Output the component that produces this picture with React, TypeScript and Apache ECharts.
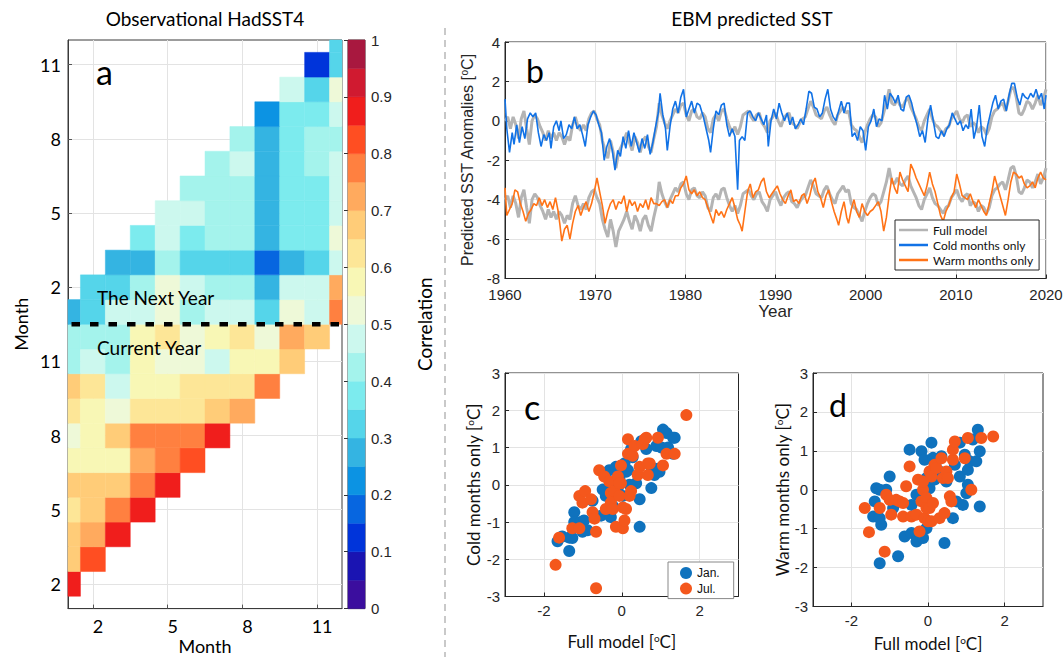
import React, { useEffect, useRef } from "react";
import * as echarts from "echarts";

const SANS = "Lato, 'Open Sans', sans-serif";
const ARIAL = "'Liberation Sans', Arial, sans-serif";
const AXIS_GRAY = "#262626";
const GRID_GRAY = "#E3E3E3";

// ---------- Panel a : lagged correlation (HadSST4) ----------
const heatColors = [
  "#3B0E9E", "#1A14B2", "#0034DA", "#0766E0", "#0C93E3",
  "#34B4E2", "#55D5EA", "#7CEBEE", "#A4F3EC", "#CCF8EE",
  "#EEF9D8", "#F8F7B5", "#FDE697", "#FFCC78", "#FFAA5E",
  "#FF8040", "#FF4E22", "#F01E1C", "#D01A30", "#A8183F",
];
const colorbarStep = 0.05;
const monthTicks = [2, 5, 8, 11];
const heatRowTicks = [2, 5, 8, 11, 14, 17, 20, 23];
const firstTargetMonth = 2;
const maxLag = 12;
const yearBoundary = 12.5;
// each row = target month (2..24), columns start at max(1, row - 12)
const corrRows: number[][] = [
  [0.88],
  [0.68, 0.83],
  [0.68, 0.73, 0.88],
  [0.63, 0.68, 0.78, 0.88],
  [0.68, 0.68, 0.68, 0.78, 0.88],
  [0.58, 0.58, 0.58, 0.73, 0.78, 0.83],
  [0.53, 0.58, 0.68, 0.78, 0.78, 0.78, 0.88],
  [0.63, 0.58, 0.53, 0.63, 0.63, 0.63, 0.68, 0.73],
  [0.68, 0.63, 0.48, 0.58, 0.58, 0.63, 0.63, 0.63, 0.78],
  [0.43, 0.48, 0.43, 0.58, 0.53, 0.53, 0.48, 0.58, 0.58, 0.68],
  [0.43, 0.43, 0.43, 0.58, 0.63, 0.53, 0.58, 0.63, 0.53, 0.73, 0.68],
  [0.28, 0.33, 0.48, 0.48, 0.53, 0.43, 0.48, 0.48, 0.33, 0.53, 0.48, 0.78],
  [0.33, 0.33, 0.43, 0.53, 0.48, 0.43, 0.43, 0.28, 0.48, 0.48, 0.73],
  [0.28, 0.28, 0.43, 0.33, 0.33, 0.33, 0.18, 0.28, 0.33, 0.48],
  [0.38, 0.48, 0.38, 0.43, 0.43, 0.28, 0.38, 0.38, 0.53],
  [0.48, 0.48, 0.43, 0.43, 0.28, 0.38, 0.38, 0.48],
  [0.43, 0.43, 0.43, 0.28, 0.38, 0.38, 0.48],
  [0.43, 0.48, 0.28, 0.38, 0.43, 0.48],
  [0.43, 0.28, 0.38, 0.43, 0.43],
  [0.23, 0.38, 0.38, 0.48],
  [0.48, 0.33, 0.53],
  [0.13, 0.33],
  [0.33],
];

// ---------- Panel b : EBM predicted SST ----------
const fullModel: [number, number][] = [
  [1960.0, 0.0], [1960.3, 0.2], [1960.6, -0.4], [1960.9, 0.2], [1961.2, -0.2], [1961.5, -0.9], [1961.8, 0.1],
  [1962.1, 0.5], [1962.4, -0.4], [1962.7, -1.2], [1963.0, 0.0], [1963.3, 0.3], [1963.6, 0.1], [1963.9, -0.3],
  [1964.2, -0.6], [1964.5, -1.0], [1964.8, -0.5], [1965.1, -0.9], [1965.4, -0.6], [1965.7, -1.0], [1966.0, -0.6],
  [1966.3, -0.8], [1966.6, -1.2], [1966.9, -0.8], [1967.2, -1.0], [1967.5, -0.2], [1967.8, 0.2], [1968.1, -0.3],
  [1968.4, -0.5], [1968.7, -0.2], [1969.0, -0.5], [1969.3, 0.1], [1969.6, 0.4], [1969.9, 0.5], [1970.2, 0.1],
  [1970.5, -0.2], [1970.8, -1.0], [1971.1, -1.5], [1971.4, -1.9], [1971.7, -1.0], [1972.0, -1.6], [1972.3, -2.4],
  [1972.6, -1.6], [1972.9, -1.3], [1973.2, -1.0], [1973.5, -0.6], [1973.8, -1.1], [1974.1, -1.5], [1974.4, -0.8],
  [1974.7, -1.1], [1975.0, -1.6], [1975.3, -1.0], [1975.6, -0.8], [1975.9, -1.3], [1976.2, -1.6], [1976.5, -0.9],
  [1976.8, -0.3], [1977.1, 0.9], [1977.4, 0.3], [1977.7, -0.1], [1978.0, -0.4], [1978.3, 0.0], [1978.6, 0.3],
  [1978.9, 0.6], [1979.2, 0.4], [1979.5, 0.8], [1979.8, 0.9], [1980.1, 0.3], [1980.4, 0.0], [1980.7, 0.5],
  [1981.0, 0.6], [1981.3, 0.2], [1981.6, 0.1], [1981.9, 0.4], [1982.2, 0.2], [1982.5, -0.4], [1982.8, -0.6],
  [1983.1, 0.1], [1983.4, 0.3], [1983.7, 0.0], [1984.0, 0.5], [1984.3, 0.6], [1984.6, 0.1], [1984.9, -0.3],
  [1985.2, -0.6], [1985.5, -0.3], [1985.8, -0.7], [1986.1, -0.3], [1986.4, 0.3], [1986.7, 0.4], [1987.0, 0.5],
  [1987.3, 0.2], [1987.6, 0.0], [1987.9, 0.3], [1988.2, 0.4], [1988.5, -0.1], [1988.8, -0.3], [1989.1, -0.6],
  [1989.4, 0.0], [1989.7, 0.2], [1990.0, 0.4], [1990.3, 0.0], [1990.6, -0.3], [1990.9, 0.1], [1991.2, 0.3],
  [1991.5, 0.4], [1991.8, -0.1], [1992.1, -0.2], [1992.4, -0.4], [1992.7, -0.1], [1993.0, 0.1], [1993.3, 0.2],
  [1993.6, 0.6], [1993.9, 1.0], [1994.2, 0.7], [1994.5, 0.3], [1994.8, 0.2], [1995.1, 0.1], [1995.4, 0.5],
  [1995.7, 0.7], [1996.0, 0.3], [1996.3, 0.0], [1996.6, -0.2], [1996.9, 0.3], [1997.2, 0.5], [1997.5, 0.7],
  [1997.8, 0.4], [1998.1, 0.5], [1998.4, -0.2], [1998.7, -0.4], [1999.0, -0.5], [1999.3, -0.8], [1999.6, -1.1],
  [1999.9, -0.6], [2000.2, -0.2], [2000.5, 0.1], [2000.8, 0.3], [2001.1, 0.2], [2001.4, -0.3], [2001.7, -0.1],
  [2002.0, 0.4], [2002.3, 0.9], [2002.6, 1.6], [2002.9, 0.9], [2003.2, 0.8], [2003.5, 1.1], [2003.8, 0.8],
  [2004.1, 0.7], [2004.4, 1.0], [2004.7, 1.2], [2005.0, 0.7], [2005.3, 0.4], [2005.6, 0.1], [2005.9, -0.3],
  [2006.2, -0.5], [2006.5, 0.0], [2006.8, 0.3], [2007.1, 0.6], [2007.4, 0.1], [2007.7, -0.2], [2008.0, -0.3],
  [2008.3, -0.5], [2008.6, -0.7], [2008.9, -0.4], [2009.2, -0.3], [2009.5, 0.1], [2009.8, 0.3], [2010.1, 0.5],
  [2010.4, 0.1], [2010.7, -0.1], [2011.0, 0.2], [2011.3, 0.3], [2011.6, -0.3], [2011.9, -0.1], [2012.2, -0.2],
  [2012.5, -0.6], [2012.8, -0.3], [2013.1, -0.4], [2013.4, -0.7], [2013.7, -0.4], [2014.0, 0.2], [2014.3, 0.5],
  [2014.6, 0.6], [2014.9, 0.8], [2015.2, 0.9], [2015.5, 0.5], [2015.8, 1.0], [2016.1, 1.6], [2016.4, 1.7],
  [2016.7, 1.2], [2017.0, 0.4], [2017.3, 0.3], [2017.6, 0.6], [2017.9, 1.0], [2018.2, 0.9], [2018.5, 0.6],
  [2018.8, 0.9], [2019.1, 1.3], [2019.4, 0.8], [2019.7, 1.1], [2020.0, 1.6],
];
const coldOnly: [number, number][] = [
  [1960.0, 1.1], [1960.2, -0.4], [1960.5, -1.6], [1960.8, -0.6], [1961.0, -1.2], [1961.3, -0.2], [1961.6, -1.1],
  [1961.9, -0.3], [1962.2, -0.9], [1962.5, 0.1], [1962.8, 0.4], [1963.1, 0.2], [1963.4, 0.4], [1963.7, -0.6],
  [1964.0, -1.3], [1964.3, -0.7], [1964.6, -1.0], [1964.9, -0.6], [1965.1, -1.4], [1965.4, -0.3], [1965.7, 0.0],
  [1966.0, -0.5], [1966.2, 0.0], [1966.5, -0.9], [1966.8, -0.7], [1967.1, -0.2], [1967.4, -0.4], [1967.7, 0.2],
  [1968.0, -0.4], [1968.3, -0.2], [1968.6, -0.7], [1968.9, -1.3], [1969.2, -0.2], [1969.5, 0.2], [1969.8, 0.5],
  [1970.1, 0.3], [1970.4, -0.2], [1970.7, -0.6], [1971.0, -2.0], [1971.3, -1.3], [1971.6, -0.9], [1971.9, -1.5],
  [1972.2, -2.5], [1972.5, -1.5], [1972.8, -1.8], [1973.1, -0.8], [1973.4, -1.4], [1973.7, -0.5], [1974.0, -1.3],
  [1974.3, -0.6], [1974.6, -1.1], [1974.9, -1.6], [1975.2, -0.9], [1975.5, -1.4], [1975.8, -0.7], [1976.1, -1.7],
  [1976.4, -1.1], [1976.7, -0.3], [1977.0, 0.4], [1977.2, 1.4], [1977.5, 0.3], [1977.8, -0.4], [1978.0, -1.5],
  [1978.3, -0.3], [1978.6, 0.6], [1978.9, 1.0], [1979.2, 0.4], [1979.5, 1.2], [1979.8, 1.6], [1980.1, 0.2],
  [1980.4, 0.6], [1980.7, 1.0], [1981.0, 0.4], [1981.3, 0.9], [1981.6, 0.8], [1982.0, 0.2], [1982.3, -0.4],
  [1982.6, -1.0], [1982.8, -1.6], [1983.1, -0.4], [1983.4, 0.5], [1983.7, 0.3], [1984.0, 0.8], [1984.3, 0.9],
  [1984.6, -0.2], [1984.9, -0.8], [1985.2, -0.4], [1985.5, -0.8], [1985.8, -3.5], [1986.0, -1.0], [1986.3, -0.8],
  [1986.6, -1.0], [1986.9, 0.4], [1987.2, 0.5], [1987.5, 0.2], [1987.8, 0.0], [1988.1, 0.4], [1988.4, 0.1],
  [1988.7, -0.2], [1989.0, 0.3], [1989.2, -1.3], [1989.5, 0.0], [1989.8, 0.6], [1990.1, 0.1], [1990.4, 0.9],
  [1990.7, 0.4], [1991.0, 0.0], [1991.3, 0.4], [1991.6, -0.2], [1991.9, 0.2], [1992.2, -0.4], [1992.5, -0.2],
  [1992.8, 0.1], [1993.1, -0.2], [1993.4, 0.6], [1993.7, 1.5], [1994.0, 1.4], [1994.3, 0.7], [1994.6, 0.6],
  [1994.9, 0.2], [1995.2, 0.4], [1995.5, 1.1], [1995.8, 1.6], [1996.1, 0.6], [1996.4, 0.2], [1996.7, 0.0],
  [1997.0, 0.5], [1997.3, 1.0], [1997.6, 0.4], [1997.9, 0.9], [1998.2, 0.9], [1998.5, -0.8], [1998.8, -0.6],
  [1999.1, -1.0], [1999.4, -0.3], [1999.7, -0.5], [2000.0, -1.5], [2000.3, -0.3], [2000.6, 0.0], [2000.9, 0.6],
  [2001.2, -0.3], [2001.5, 0.1], [2001.8, 0.0], [2002.1, 1.3], [2002.4, 0.6], [2002.7, 1.4], [2003.0, 1.2],
  [2003.3, 0.9], [2003.6, 1.3], [2003.9, 0.6], [2004.2, 0.5], [2004.5, 1.2], [2004.8, 1.3], [2005.1, 0.9],
  [2005.4, 0.3], [2005.7, -0.2], [2006.0, -0.8], [2006.3, -0.5], [2006.6, -1.1], [2006.9, 0.1], [2007.2, 0.8],
  [2007.5, 0.0], [2007.8, -0.8], [2008.1, -0.9], [2008.4, -0.5], [2008.7, -0.8], [2009.0, -0.4], [2009.3, -0.2],
  [2009.6, 0.4], [2009.9, 0.1], [2010.2, -0.2], [2010.5, 0.0], [2010.8, -0.5], [2011.1, -0.2], [2011.4, -0.4],
  [2011.7, 0.6], [2012.0, -0.9], [2012.3, -0.3], [2012.6, 0.8], [2012.9, -0.8], [2013.2, -1.3], [2013.5, -0.3],
  [2013.8, 0.3], [2014.1, 0.9], [2014.4, 1.3], [2014.7, 0.6], [2015.0, 1.0], [2015.3, 1.1], [2015.6, 0.5],
  [2015.9, 1.3], [2016.2, 1.9], [2016.5, 1.9], [2016.8, 1.2], [2017.1, 0.8], [2017.4, 1.4], [2017.7, 1.2],
  [2018.0, 1.1], [2018.3, 1.4], [2018.6, 1.2], [2018.9, 1.6], [2019.2, 1.1], [2019.5, 1.4], [2019.8, 0.6],
  [2020.0, 1.3],
];
const warmOnly: [number, number][] = [
  [1960.0, -3.4], [1960.2, -4.8], [1960.5, -4.5], [1960.8, -4.2], [1961.1, -3.5], [1961.4, -3.6], [1961.7, -4.2],
  [1962.0, -4.6], [1962.3, -5.1], [1962.6, -4.7], [1962.9, -4.5], [1963.2, -4.2], [1963.5, -4.3], [1963.8, -3.9],
  [1964.1, -4.3], [1964.4, -4.0], [1964.7, -4.4], [1965.0, -4.1], [1965.3, -4.5], [1965.6, -3.9], [1965.9, -4.6],
  [1966.1, -5.3], [1966.3, -6.1], [1966.6, -5.5], [1966.9, -5.3], [1967.2, -6.0], [1967.5, -5.2], [1967.8, -4.6],
  [1968.1, -4.3], [1968.4, -4.8], [1968.7, -4.4], [1969.0, -4.1], [1969.3, -4.6], [1969.6, -4.2], [1969.9, -3.6],
  [1970.2, -2.9], [1970.5, -3.6], [1970.8, -4.3], [1971.1, -5.2], [1971.4, -4.6], [1971.7, -4.2], [1972.0, -4.0],
  [1972.3, -4.5], [1972.6, -4.1], [1972.9, -4.2], [1973.2, -3.8], [1973.5, -4.6], [1973.8, -4.0], [1974.1, -4.3],
  [1974.4, -4.1], [1974.7, -4.6], [1975.0, -4.2], [1975.3, -4.4], [1975.6, -4.0], [1975.9, -4.5], [1976.2, -3.9],
  [1976.5, -4.2], [1976.8, -4.2], [1977.1, -4.3], [1977.4, -4.1], [1977.7, -4.0], [1978.0, -4.4], [1978.3, -4.0],
  [1978.6, -4.2], [1978.9, -3.8], [1979.2, -3.8], [1979.5, -3.4], [1979.8, -3.2], [1980.1, -2.8], [1980.4, -3.5],
  [1980.7, -3.7], [1981.0, -3.5], [1981.3, -3.8], [1981.6, -3.6], [1981.9, -3.9], [1982.2, -4.0], [1982.5, -4.4],
  [1982.8, -4.8], [1983.1, -5.2], [1983.4, -4.5], [1983.7, -4.8], [1984.0, -4.6], [1984.3, -4.9], [1984.6, -4.5],
  [1984.9, -4.2], [1985.2, -3.9], [1985.5, -4.4], [1985.8, -5.0], [1986.1, -5.3], [1986.3, -5.6], [1986.6, -4.6],
  [1986.9, -3.6], [1987.2, -3.2], [1987.5, -3.9], [1987.8, -3.6], [1988.1, -3.5], [1988.4, -3.1], [1988.7, -2.9],
  [1989.0, -3.6], [1989.3, -3.9], [1989.6, -3.7], [1989.9, -3.5], [1990.2, -3.3], [1990.5, -3.7], [1990.8, -4.0],
  [1991.1, -4.2], [1991.4, -3.8], [1991.7, -3.5], [1992.0, -4.1], [1992.3, -4.0], [1992.6, -4.2], [1992.9, -3.8],
  [1993.2, -3.7], [1993.5, -4.2], [1993.8, -3.8], [1994.1, -3.2], [1994.4, -2.9], [1994.7, -3.6], [1995.0, -3.9],
  [1995.3, -4.4], [1995.6, -3.8], [1995.9, -3.5], [1996.2, -4.1], [1996.5, -4.6], [1996.8, -5.0], [1997.0, -5.3],
  [1997.3, -4.6], [1997.6, -4.1], [1997.9, -4.9], [1998.1, -5.2], [1998.4, -4.5], [1998.7, -4.0], [1999.0, -4.6],
  [1999.3, -4.9], [1999.6, -4.2], [1999.9, -4.6], [2000.2, -4.8], [2000.5, -4.6], [2000.8, -4.5], [2001.1, -4.3],
  [2001.4, -4.1], [2001.7, -4.6], [2002.0, -5.6], [2002.3, -4.9], [2002.6, -3.8], [2002.9, -2.9], [2003.2, -3.4],
  [2003.5, -3.7], [2003.8, -2.6], [2004.1, -3.0], [2004.4, -3.3], [2004.7, -3.6], [2005.0, -2.2], [2005.3, -2.5],
  [2005.6, -2.9], [2005.9, -3.2], [2006.2, -3.5], [2006.5, -3.8], [2006.8, -3.3], [2007.1, -2.6], [2007.4, -3.2],
  [2007.7, -3.6], [2008.0, -4.2], [2008.3, -4.8], [2008.6, -5.1], [2008.9, -4.6], [2009.2, -4.3], [2009.5, -3.9],
  [2009.8, -3.6], [2010.1, -2.7], [2010.4, -3.2], [2010.7, -3.8], [2011.0, -3.9], [2011.3, -4.0], [2011.6, -3.7],
  [2011.9, -4.1], [2012.2, -4.4], [2012.5, -4.0], [2012.8, -4.3], [2013.1, -4.6], [2013.4, -4.8], [2013.7, -4.2],
  [2014.0, -3.6], [2014.3, -2.8], [2014.6, -3.3], [2014.9, -3.8], [2015.2, -4.3], [2015.5, -4.8], [2015.8, -4.0],
  [2016.1, -3.1], [2016.4, -2.6], [2016.7, -2.7], [2017.0, -2.9], [2017.3, -2.8], [2017.6, -3.2], [2017.9, -3.4],
  [2018.2, -3.3], [2018.5, -3.1], [2018.8, -3.4], [2019.1, -2.9], [2019.4, -2.6], [2019.7, -2.9], [2020.0, -3.0],
];
const warmOffset = -4;

// ---------- Panel c : cold months only vs full model ----------
const janC: [number, number][] = [
  [-1.65, -1.52], [-1.53, -1.39], [-1.35, -1.78], [-1.35, -1.42], [-1.27, -1.43], [-1.22, -0.74], [-1.22, -1.0],
  [-1.05, -1.0], [-1.01, -1.26], [-0.97, -0.96], [-0.88, -1.22], [-0.75, -0.43], [-0.53, -0.83], [-0.41, -0.3],
  [-0.41, -0.17], [-0.32, 0.39], [-0.28, -0.87], [-0.23, -0.57], [-0.19, -0.22], [-0.1, -0.09], [-0.1, 0.39],
  [0.03, -0.3], [0.07, 0.57], [0.11, 0.35], [0.16, 0.39], [0.2, 0.0], [0.24, 0.96], [0.28, 0.74], [0.37, 0.04],
  [0.46, -0.39], [0.46, -1.13], [0.63, 0.96], [0.76, 0.48], [0.76, -0.09], [0.84, 0.26], [0.89, 1.04],
  [0.93, 0.43], [0.97, 0.35], [1.02, 1.0], [1.06, 1.48], [1.15, 1.39], [1.19, 1.0], [1.32, 1.26], [1.36, 1.26],
  [1.32, 0.83], [-0.49, -0.13], [0.5, 1.17], [-0.15, 0.48], [-0.06, 0.17],
];
const julC: [number, number][] = [
  [-1.61, -1.42], [-1.7, -2.15], [-0.66, -2.78], [1.66, 1.87], [-1.27, -1.17], [-1.09, -1.17], [-1.09, -0.3],
  [-1.01, -0.48], [-0.94, -0.17], [-0.79, -0.39], [-0.75, -0.74], [-0.7, -0.91], [-0.66, -1.26], [-0.58, 0.39],
  [-0.45, 0.22], [-0.41, -0.65], [-0.32, 0.09], [-0.28, -0.22], [-0.28, -0.48], [-0.23, -0.65], [-0.19, -0.17],
  [-0.15, -1.13], [-0.1, 0.22], [-0.06, -0.3], [-0.02, 0.52], [-0.02, 0.04], [0.03, -0.61], [0.03, -1.17],
  [0.07, -0.96], [0.11, -0.65], [0.16, 1.22], [0.16, 0.83], [0.2, -0.3], [0.24, -0.17], [0.28, 0.78],
  [0.33, 1.04], [0.41, 0.26], [0.46, 0.48], [0.54, 1.09], [0.59, 1.22], [0.63, 1.26], [0.67, 0.57],
  [0.67, 0.26], [0.72, 0.57], [0.93, 1.26], [1.06, 0.52], [1.15, 0.83], [1.36, 0.83], [-0.06, 0.04],
];

// ---------- Panel d : warm months only vs full model ----------
const janD: [number, number][] = [
  [-1.26, -1.89], [-1.35, 0.04], [-1.26, 0.0], [-1.39, -0.3], [-1.43, -0.69], [-1.22, -0.9], [-1.26, -0.73],
  [-1.09, 0.0], [-1.0, 0.34], [-0.91, -0.47], [-0.78, -1.71], [-0.61, -1.2], [-0.48, 1.03], [-0.43, -0.39],
  [-0.43, -1.11], [-0.3, -1.33], [-0.3, -0.13], [-0.17, 0.99], [-0.17, -0.26], [-0.13, -1.24], [-0.09, 0.77],
  [-0.04, 0.3], [-0.04, -0.99], [0.04, 0.04], [0.09, 1.21], [0.13, 0.82], [0.17, 0.26], [0.22, 0.73],
  [0.3, 0.47], [0.35, 0.86], [0.43, -1.37], [0.48, 0.21], [0.65, -0.73], [0.7, 0.64], [0.74, -0.3],
  [0.83, 1.21], [0.83, 0.34], [0.91, -0.39], [1.0, -0.09], [1.04, 0.51], [1.04, 0.13], [1.09, 0.73],
  [1.17, 1.29], [1.26, 0.73], [1.3, 1.54], [1.35, 0.99], [1.35, -0.43], [0.96, 0.9],
];
const julD: [number, number][] = [
  [-1.65, -0.47], [-1.54, -1.09], [-1.26, -0.47], [-1.13, -1.59], [-1.09, -0.13], [-1.0, -0.26], [-0.96, -0.64],
  [-0.83, -0.26], [-0.74, -0.3], [-0.65, -0.34], [-0.65, -0.69], [-0.57, 0.09], [-0.48, 0.6], [-0.43, -0.69],
  [-0.3, -0.64], [-0.26, 0.26], [-0.22, -1.07], [-0.17, -0.3], [-0.13, 0.0], [-0.09, -0.73], [-0.04, -0.21],
  [-0.04, -0.47], [0.0, -0.81], [0.04, 0.47], [0.04, -0.47], [0.09, 0.34], [0.09, -0.81], [0.13, -0.34],
  [0.17, 0.64], [0.22, 0.56], [0.3, -0.73], [0.35, 0.81], [0.39, 0.3], [0.43, -0.6], [0.48, 0.47],
  [0.52, 0.3], [0.57, -0.17], [0.61, -0.3], [0.65, 0.77], [0.65, 1.03], [0.7, 1.24], [0.96, 0.81],
  [1.13, 0.0], [1.04, 1.33], [1.39, 1.33], [1.7, 1.37], [-0.13, 0.21],
];

const JAN_COLOR = "#0F72BD";
const JUL_COLOR = "#F4571C";

function colorOf(v: number) {
  const k = Math.min(heatColors.length - 1, Math.max(0, Math.floor(v / colorbarStep)));
  return heatColors[k];
}

function supName(font: string, size: number, color: string) {
  return {
    fontFamily: font,
    fontSize: size,
    color,
    rich: {
      s: { fontFamily: font, fontSize: Math.round(size * 0.6), color, verticalAlign: "top" },
    },
  };
}

export default function App() {
  const ref = useRef<HTMLDivElement>(null);

  useEffect(() => {
    const chart = echarts.init(ref.current as HTMLDivElement, null, { renderer: "svg" });

    const heatData: number[][] = [];
    corrRows.forEach((row, i) => {
      const y = firstTargetMonth + i;
      const start = Math.max(1, y - maxLag);
      row.forEach((v, j) => heatData.push([start + j, y, v]));
    });

    const colorbarData = heatColors.map((_, k) => [0.5, k * colorbarStep, (k + 1) * colorbarStep, k]);

    const cellRender = (params: any, api: any) => {
      const x = api.value(0);
      const y = api.value(1);
      const v = api.value(2);
      const p0 = api.coord([x - 0.5, y + 0.5]);
      const p1 = api.coord([x + 0.5, y - 0.5]);
      const cs = params.coordSys;
      const shape = echarts.graphic.clipRectByRect(
        { x: p0[0], y: p0[1], width: p1[0] - p0[0], height: p1[1] - p0[1] },
        { x: cs.x, y: cs.y, width: cs.width, height: cs.height }
      );
      if (!shape) return null;
      const c = colorOf(v);
      return { type: "rect", shape, style: { fill: c, stroke: c, lineWidth: 0.5 } };
    };

    const barRender = (params: any, api: any) => {
      const lo = api.value(1);
      const hi = api.value(2);
      const k = api.value(3);
      const p0 = api.coord([0, hi]);
      const p1 = api.coord([1, lo]);
      const c = heatColors[k];
      return {
        type: "rect",
        shape: { x: p0[0], y: p0[1], width: p1[0] - p0[0], height: p1[1] - p0[1] },
        style: { fill: c, stroke: c, lineWidth: 0.5 },
      };
    };

    const tickLabel = (size: number, font: string, color: string, extra: any = {}) => ({
      fontSize: size,
      fontFamily: font,
      color,
      ...extra,
    });

    const matlabGrid = (left: number, top: number, width: number, height: number, border = AXIS_GRAY) => ({
      left,
      top,
      width,
      height,
      show: true,
      borderColor: border,
      borderWidth: 1,
      backgroundColor: "#fff",
      containLabel: false,
      outerBoundsMode: "none",
    });

    const option: any = {
      animation: false,
      backgroundColor: "#fff",
      grid: [
        matlabGrid(68, 40, 274, 568.6, "#3A3A3A"),
        matlabGrid(348, 40, 17, 568.6, "#3A3A3A"),
        matlabGrid(505, 42, 541, 236.5),
        matlabGrid(505, 373, 233.5, 223.5),
        matlabGrid(813, 373, 230, 233.5),
      ],
      xAxis: [
        {
          gridIndex: 0,
          type: "value",
          min: 1,
          max: 12,
          axisLine: { onZero: false, lineStyle: { color: "#3A3A3A" } },
          axisTick: { customValues: monthTicks, inside: true, length: 4, lineStyle: { color: "#555" } },
          axisLabel: {
            customValues: monthTicks,
            margin: 8,
            padding: [0, 0, 0, 10],
            ...tickLabel(18, SANS, "#000", { lineHeight: 18 }),
          },
          splitLine: { show: true, lineStyle: { color: GRID_GRAY } },
          name: "Month",
          nameLocation: "middle",
          nameGap: 28,
          nameMoveOverlap: false,
          nameTextStyle: { fontFamily: SANS, fontSize: 18, color: "#000", lineHeight: 18 },
        },
        { gridIndex: 1, type: "value", min: 0, max: 1, show: false },
        {
          gridIndex: 2,
          type: "value",
          min: 1960,
          max: 2020,
          interval: 10,
          axisLine: { onZero: false, lineStyle: { color: AXIS_GRAY } },
          axisTick: { inside: true, length: 4, lineStyle: { color: AXIS_GRAY } },
          axisLabel: { formatter: (v: number) => String(v), margin: 8, ...tickLabel(15, ARIAL, AXIS_GRAY, { lineHeight: 15 }) },
          splitLine: { show: true, lineStyle: { color: GRID_GRAY } },
          name: "Year",
          nameLocation: "middle",
          nameGap: 24,
          nameTextStyle: { fontFamily: ARIAL, fontSize: 17, color: AXIS_GRAY },
        },
        {
          gridIndex: 3,
          type: "value",
          min: -3,
          max: 3,
          axisLine: { onZero: false, lineStyle: { color: AXIS_GRAY } },
          axisTick: { customValues: [-2, 0, 2], inside: true, length: 4, lineStyle: { color: AXIS_GRAY } },
          axisLabel: { customValues: [-2, 0, 2], margin: 6, ...tickLabel(15, ARIAL, AXIS_GRAY) },
          splitLine: { show: true, lineStyle: { color: GRID_GRAY } },
          name: "Full model [{s|o}C]",
          nameLocation: "middle",
          nameGap: 36,
          nameTextStyle: supName(SANS, 17, "#111"),
        },
        {
          gridIndex: 4,
          type: "value",
          min: -3,
          max: 3,
          axisLine: { onZero: false, lineStyle: { color: AXIS_GRAY } },
          axisTick: { customValues: [-2, 0, 2], inside: true, length: 4, lineStyle: { color: AXIS_GRAY } },
          axisLabel: { customValues: [-2, 0, 2], margin: 6, ...tickLabel(15, ARIAL, AXIS_GRAY) },
          splitLine: { show: true, lineStyle: { color: GRID_GRAY } },
          name: "Full model [{s|o}C]",
          nameLocation: "middle",
          nameGap: 28,
          nameTextStyle: supName(SANS, 17, "#111"),
        },
      ],
      yAxis: [
        {
          gridIndex: 0,
          type: "value",
          min: 1,
          max: 24,
          axisLine: { onZero: false, lineStyle: { color: "#3A3A3A" } },
          axisTick: { customValues: heatRowTicks, inside: true, length: 4, lineStyle: { color: "#555" } },
          axisLabel: {
            customValues: heatRowTicks,
            margin: 7,
            formatter: (v: number) => String(((v - 1) % 12) + 1),
            ...tickLabel(18, SANS, "#000"),
          },
          splitLine: { show: true, lineStyle: { color: GRID_GRAY } },
          name: "Month",
          nameLocation: "middle",
          nameRotate: 90,
          nameGap: 38,
          nameTextStyle: { fontFamily: SANS, fontSize: 18, color: "#000" },
        },
        {
          gridIndex: 1,
          type: "value",
          min: 0,
          max: 1,
          interval: 0.1,
          position: "right",
          axisLine: { show: false },
          axisTick: { inside: true, length: 4, lineStyle: { color: "#333" } },
          axisLabel: {
            margin: 6,
            formatter: (v: number) => (v === 0 ? "0" : v === 1 ? "1" : v.toFixed(1)),
            ...tickLabel(15, ARIAL, AXIS_GRAY),
          },
          splitLine: { show: false },
          name: "Correlation",
          nameLocation: "middle",
          nameRotate: 90,
          nameGap: 50,
          nameTextStyle: { fontFamily: SANS, fontSize: 19, color: "#000" },
        },
        {
          gridIndex: 2,
          type: "value",
          min: -8,
          max: 4,
          interval: 2,
          axisLine: { onZero: false, lineStyle: { color: AXIS_GRAY } },
          axisTick: { inside: true, length: 4, lineStyle: { color: AXIS_GRAY } },
          axisLabel: { margin: 5, ...tickLabel(15, ARIAL, AXIS_GRAY, { lineHeight: 13 }) },
          splitLine: { show: true, lineStyle: { color: GRID_GRAY } },
          name: "Predicted SST Anomalies [{s|o}C]",
          nameLocation: "middle",
          nameRotate: 90,
          nameGap: 24,
          nameTextStyle: supName(ARIAL, 16, AXIS_GRAY),
        },
        {
          gridIndex: 3,
          type: "value",
          min: -3,
          max: 3,
          interval: 1,
          axisLine: { onZero: false, lineStyle: { color: AXIS_GRAY } },
          axisTick: { inside: true, length: 4, lineStyle: { color: AXIS_GRAY } },
          axisLabel: { margin: 5, ...tickLabel(15, ARIAL, AXIS_GRAY) },
          splitLine: { show: true, lineStyle: { color: GRID_GRAY } },
          name: "Cold months only [{s|o}C]",
          nameLocation: "middle",
          nameRotate: 90,
          nameGap: 23,
          nameTextStyle: supName(SANS, 17, "#111"),
        },
        {
          gridIndex: 4,
          type: "value",
          min: -3,
          max: 3,
          interval: 1,
          axisLine: { onZero: false, lineStyle: { color: AXIS_GRAY } },
          axisTick: { inside: true, length: 4, lineStyle: { color: AXIS_GRAY } },
          axisLabel: { margin: 5, ...tickLabel(15, ARIAL, AXIS_GRAY) },
          splitLine: { show: true, lineStyle: { color: GRID_GRAY } },
          name: "Warm months only [{s|o}C]",
          nameLocation: "middle",
          nameRotate: 90,
          nameGap: 22,
          nameTextStyle: supName(SANS, 17, "#111"),
        },
      ],
      legend: [
        {
          data: ["Full model", "Cold months only", "Warm months only"],
          orient: "vertical",
          left: 895,
          top: 220,
          icon: "rect",
          itemWidth: 29,
          itemHeight: 2.5,
          itemGap: 1,
          padding: [3, 6, 3, 4],
          borderColor: AXIS_GRAY,
          borderWidth: 1,
          backgroundColor: "#fff",
          selectedMode: false,
          textStyle: { fontFamily: SANS, fontSize: 12, color: "#111", lineHeight: 14 },
        },
        {
          data: ["Jan.", "Jul."],
          orient: "vertical",
          left: 668,
          top: 562,
          icon: "circle",
          itemWidth: 12,
          itemHeight: 12,
          itemGap: 3.6,
          padding: [5, 14, 4, 12],
          borderColor: "#888",
          borderWidth: 1,
          backgroundColor: "#fff",
          selectedMode: false,
          textStyle: { fontFamily: ARIAL, fontSize: 12, color: "#111" },
        },
      ],
      series: [
        {
          type: "custom",
          name: "Correlation cells",
          xAxisIndex: 0,
          yAxisIndex: 0,
          data: heatData,
          encode: { x: 0, y: 1 },
          renderItem: cellRender,
          silent: true,
        },
        {
          type: "line",
          name: "Year boundary",
          xAxisIndex: 0,
          yAxisIndex: 0,
          data: [
            [1, yearBoundary],
            [12, yearBoundary],
          ],
          symbol: "none",
          silent: true,
          z: 5,
          lineStyle: { color: "#000", width: 4.5, type: [8.5, 10], dashOffset: 14.8, cap: "butt" },
        },
        {
          type: "custom",
          name: "Colorbar",
          xAxisIndex: 1,
          yAxisIndex: 1,
          dimensions: ["x", "lo", "hi", "k"],
          encode: { x: "x", y: ["lo", "hi"] },
          data: colorbarData,
          renderItem: barRender,
          silent: true,
        },
        {
          type: "line",
          name: "Full model",
          xAxisIndex: 2,
          yAxisIndex: 2,
          data: fullModel,
          symbol: "none",
          silent: true,
          lineStyle: { color: "#B4B4B4", width: 3 },
          itemStyle: { color: "#B4B4B4" },
        },
        {
          type: "line",
          name: "Full model",
          xAxisIndex: 2,
          yAxisIndex: 2,
          data: fullModel.map(([t, v]) => [t, v + warmOffset]),
          symbol: "none",
          silent: true,
          lineStyle: { color: "#B4B4B4", width: 3 },
          itemStyle: { color: "#B4B4B4" },
        },
        {
          type: "line",
          name: "Cold months only",
          xAxisIndex: 2,
          yAxisIndex: 2,
          data: coldOnly,
          symbol: "none",
          silent: true,
          lineStyle: { color: "#1172E6", width: 1.6 },
          itemStyle: { color: "#1172E6" },
        },
        {
          type: "line",
          name: "Warm months only",
          xAxisIndex: 2,
          yAxisIndex: 2,
          data: warmOnly,
          symbol: "none",
          silent: true,
          lineStyle: { color: "#FF7317", width: 1.6 },
          itemStyle: { color: "#FF7317" },
        },
        {
          type: "scatter",
          name: "Jan.",
          xAxisIndex: 3,
          yAxisIndex: 3,
          data: janC,
          symbolSize: 12,
          silent: true,
          itemStyle: { color: JAN_COLOR, opacity: 1 },
        },
        {
          type: "scatter",
          name: "Jul.",
          xAxisIndex: 3,
          yAxisIndex: 3,
          data: julC,
          symbolSize: 12,
          silent: true,
          itemStyle: { color: JUL_COLOR, opacity: 1 },
        },
        {
          type: "scatter",
          name: "Jan.",
          xAxisIndex: 4,
          yAxisIndex: 4,
          data: janD,
          symbolSize: 12,
          silent: true,
          itemStyle: { color: JAN_COLOR, opacity: 1 },
        },
        {
          type: "scatter",
          name: "Jul.",
          xAxisIndex: 4,
          yAxisIndex: 4,
          data: julD,
          symbolSize: 12,
          silent: true,
          itemStyle: { color: JUL_COLOR, opacity: 1 },
        },
      ],
      graphic: [
        {
          type: "text",
          x: 205,
          y: 18,
          style: { text: "Observational HadSST4", fontFamily: SANS, fontSize: 19, fill: "#000", align: "center", verticalAlign: "middle", textAlign: "center", textVerticalAlign: "middle" },
        },
        {
          type: "text",
          x: 752,
          y: 18,
          style: { text: "EBM predicted SST", fontFamily: SANS, fontSize: 19, fill: "#000", align: "center", verticalAlign: "middle", textAlign: "center", textVerticalAlign: "middle" },
        },
        {
          type: "line",
          shape: { x1: 445, y1: 28, x2: 445, y2: 657 },
          style: { stroke: "#C9C9C9", lineWidth: 2, lineDash: [7, 5] },
        },
        {
          type: "text",
          x: 97,
          y: 297,
          z: 10,
          style: { text: "The Next Year", fontFamily: SANS, fontSize: 19, fill: "#000", align: "left", verticalAlign: "middle", textAlign: "left", textVerticalAlign: "middle" },
        },
        {
          type: "text",
          x: 97,
          y: 347,
          z: 10,
          style: { text: "Current Year", fontFamily: SANS, fontSize: 19, fill: "#000", align: "left", verticalAlign: "middle", textAlign: "left", textVerticalAlign: "middle" },
        },
        {
          type: "text",
          x: 96,
          y: 71,
          z: 10,
          style: { text: "a", fontFamily: SANS, fontSize: 34, fill: "#000", align: "left", verticalAlign: "middle", textAlign: "left", textVerticalAlign: "middle" },
        },
        {
          type: "text",
          x: 526,
          y: 70,
          z: 10,
          style: { text: "b", fontFamily: SANS, fontSize: 32, fill: "#000", align: "left", verticalAlign: "middle", textAlign: "left", textVerticalAlign: "middle" },
        },
        {
          type: "text",
          x: 524,
          y: 406,
          z: 10,
          style: { text: "c", fontFamily: SANS, fontSize: 34, fill: "#000", align: "left", verticalAlign: "middle", textAlign: "left", textVerticalAlign: "middle" },
        },
        {
          type: "text",
          x: 829,
          y: 404,
          z: 10,
          style: { text: "d", fontFamily: SANS, fontSize: 32, fill: "#000", align: "left", verticalAlign: "middle", textAlign: "left", textVerticalAlign: "middle" },
        },
      ],
    };

    chart.setOption(option);
    return () => chart.dispose();
  }, []);

  return (
    <div
      ref={ref}
      style={{ position: "fixed", left: 0, top: 0, width: 1063, height: 657, background: "#fff" }}
    />
  );
}
